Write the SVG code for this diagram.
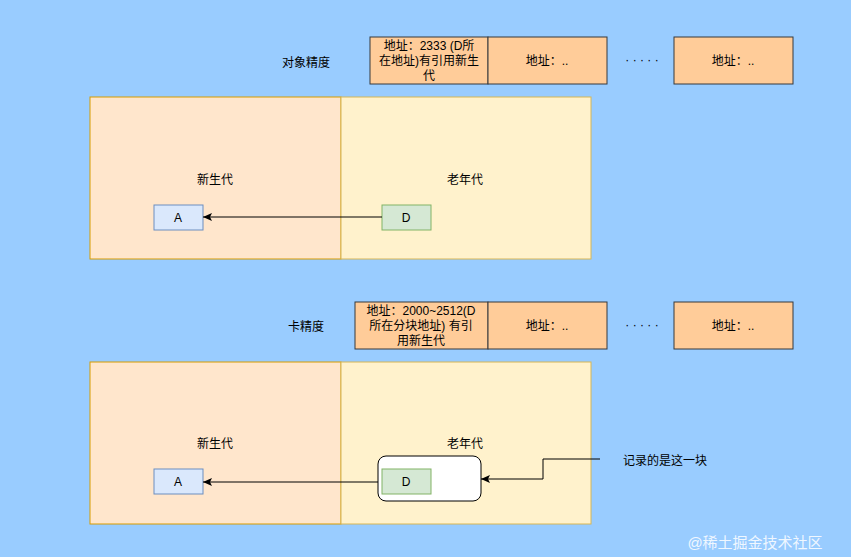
<svg xmlns="http://www.w3.org/2000/svg" width="851" height="557" viewBox="0 0 851 557">
<defs>
<style>
text{font-family:"Liberation Sans","Noto Sans CJK SC",sans-serif;font-size:12px;fill:#000;text-anchor:middle}
.cell{fill:#FFCC99;stroke:#36393D}
.young{fill:#FFE6CC;stroke:#D79B00}
.old{fill:#FFF2CC;stroke:#D6B656}
.a{fill:#DAE8FC;stroke:#6C8EBF}
.d{fill:#D5E8D4;stroke:#82B366}
.ln{fill:none;stroke:#000;stroke-width:1}
</style>
<marker id="ah" markerWidth="10" markerHeight="8" refX="9" refY="4" orient="auto" markerUnits="userSpaceOnUse"><path d="M0,0 L9,4 L0,8 L2,4 Z" fill="#000"/></marker>
</defs>
<rect width="851" height="557" fill="#99CCFF"/>
<g id="top-row">
<text x="306" y="67">对象精度</text>
<rect class="cell" x="370" y="37" width="118" height="47"/>
<text x="429" y="50">地址：2333 (D所</text>
<text x="429" y="65">在地址)有引用新生</text>
<text x="429" y="80">代</text>
<rect class="cell" x="488" y="37" width="119" height="47"/>
<text x="547" y="65">地址：..</text>
<text x="642" y="64">· · · · ·</text>
<rect class="cell" x="674" y="37" width="119" height="47"/>
<text x="733" y="65">地址：..</text>
</g>
<g id="region1">
<rect class="young" x="90" y="97" width="251" height="162"/>
<rect class="old" x="341" y="97" width="250" height="162"/>
<text x="215" y="184">新生代</text>
<text x="465" y="184">老年代</text>
</g>
<g id="A1"><rect class="a" x="154" y="205" width="49" height="25"/><text x="178" y="222">A</text></g>
<g id="D1"><rect class="d" x="382" y="205" width="49" height="25"/><text x="406" y="222">D</text></g>
<g id="bottom-row">
<text x="306" y="331">卡精度</text>
<rect class="cell" x="355" y="302" width="133" height="47"/>
<text x="421" y="315">地址：2000~2512(D</text>
<text x="421" y="330">所在分块地址) 有引</text>
<text x="421" y="345">用新生代</text>
<rect class="cell" x="488" y="302" width="119" height="47"/>
<text x="547" y="330">地址：..</text>
<text x="642" y="329">· · · · ·</text>
<rect class="cell" x="674" y="302" width="119" height="47"/>
<text x="733" y="330">地址：..</text>
</g>
<g id="region2">
<rect class="young" x="90" y="362" width="251" height="162"/>
<rect class="old" x="341" y="362" width="250" height="162"/>
<text x="215" y="448">新生代</text>
<text x="465" y="448">老年代</text>
</g>
<g id="block"><rect x="378" y="456" width="103" height="45" rx="8" fill="#fff" stroke="#000"/></g>
<g id="A2"><rect class="a" x="154" y="469" width="49" height="25"/><text x="178" y="486">A</text></g>
<g id="D2"><rect class="d" x="382" y="469" width="49" height="25"/><text x="406" y="486">D</text></g>
<g id="note"><text x="665" y="465">记录的是这一块</text></g>
<g id="connectors">
<path class="ln" d="M382,217 L203,217" marker-end="url(#ah)"/>
<path class="ln" d="M378,482 L203,482" marker-end="url(#ah)"/>
<path class="ln" d="M600,459 L543,459 L543,479 L481,479" marker-end="url(#ah)"/>
</g>
<text x="755" y="548" style="font-size:15px;fill:#fff;opacity:0.85">@稀土掘金技术社区</text>
</svg>
